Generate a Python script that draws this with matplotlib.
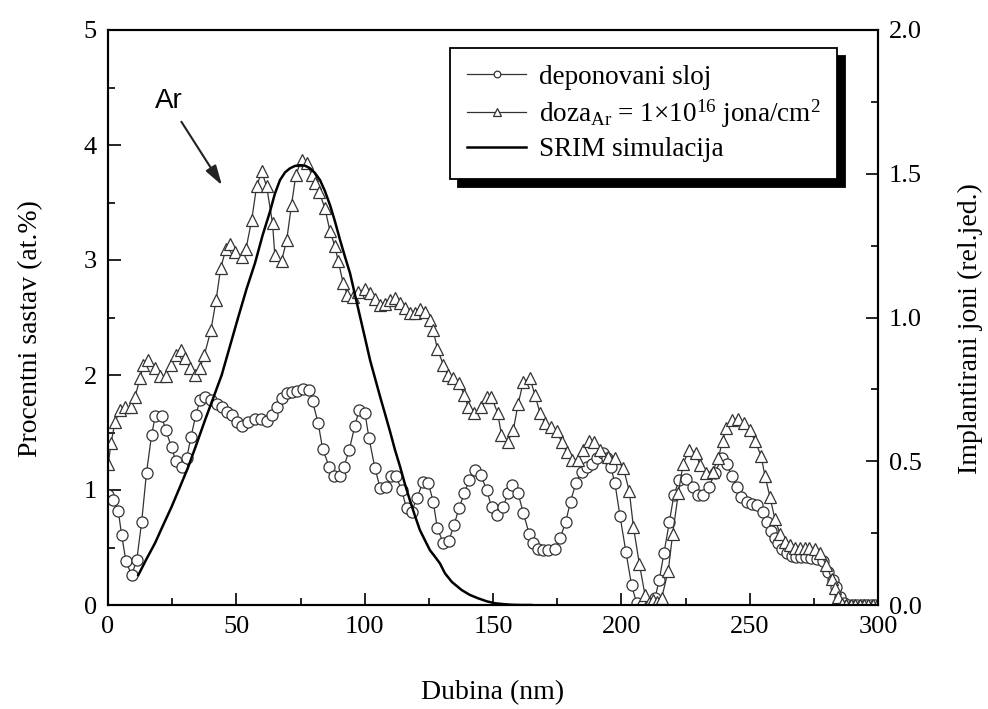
import matplotlib
matplotlib.use("Agg")
import matplotlib.pyplot as plt
from matplotlib.ticker import MultipleLocator

plt.rcParams['font.family'] = ['Liberation Serif', 'DejaVu Serif']
plt.rcParams['mathtext.fontset'] = 'custom'
plt.rcParams['mathtext.rm'] = 'Liberation Serif'
plt.rcParams['mathtext.it'] = 'Liberation Serif:italic'

# deponovani sloj (circles)
dep_x = [0.1, 1.8, 4.0, 5.3, 7.0, 9.2, 11.2, 13.1, 15.0, 17.0, 18.4, 20.9, 22.5, 24.8, 26.4, 28.7,
         30.7, 32.3, 34.2, 35.8, 37.8, 40.1, 42.3, 44.3, 46.2, 48.2, 50.1, 52.1, 54.7, 57.3, 59.6,
         61.8, 63.8, 65.7, 67.7, 69.6, 71.6, 73.5, 75.8, 78.4, 79.7, 81.9, 83.6, 86.2, 88.0, 90.4,
         91.9, 94.0, 96.2, 97.9, 100.1, 101.7, 104.0, 106.0, 108.3, 110.1, 112.2, 114.4, 116.3,
         118.3, 120.3, 122.8, 124.8, 126.7, 128.3, 130.6, 132.8, 134.9, 136.7, 138.8, 140.8, 143.0,
         145.3, 147.5, 149.5, 151.4, 154.0, 155.7, 157.5, 159.8, 161.8, 164.1, 165.7, 167.6, 169.6,
         171.5, 174.1, 176.1, 178.3, 180.2, 182.3, 184.5, 186.5, 188.4, 190.7, 192.7, 194.3, 195.9,
         197.5, 199.5, 201.8, 204.0, 206.0, 208.5, 211.1, 213.1, 214.8, 216.6, 218.7, 220.5, 222.6,
         225.2, 227.8, 230.0, 231.9, 234.2, 236.5, 239.1, 241.0, 243.0, 244.9, 246.8, 248.8, 251.1,
         252.9, 255.0, 256.6, 258.3, 259.8, 261.1, 262.6, 264.4, 266.3, 268.2, 270.1, 272.0, 274.0,
         276.2, 278.6, 280.6, 282.5, 283.8, 285.2, 286.8, 288.5, 290.2, 292.0, 293.8, 295.5, 297.2,
         299.0]
dep_y = [0.96, 0.91, 0.82, 0.61, 0.38, 0.26, 0.39, 0.72, 1.15, 1.48, 1.64, 1.64, 1.52, 1.37, 1.25, 1.20,
         1.28, 1.46, 1.65, 1.78, 1.81, 1.78, 1.75, 1.72, 1.68, 1.65, 1.59, 1.56, 1.59, 1.62, 1.62,
         1.60, 1.65, 1.72, 1.80, 1.84, 1.855, 1.86, 1.875, 1.87, 1.77, 1.58, 1.36, 1.20, 1.12, 1.12,
         1.20, 1.35, 1.56, 1.70, 1.67, 1.45, 1.19, 1.02, 1.03, 1.12, 1.12, 1.00, 0.84,
         0.81, 0.93, 1.07, 1.06, 0.90, 0.67, 0.54, 0.56, 0.70, 0.84, 0.97, 1.09, 1.17,
         1.13, 1.00, 0.85, 0.78, 0.85, 0.97, 1.04, 0.97, 0.80, 0.62, 0.54, 0.49, 0.48,
         0.48, 0.49, 0.58, 0.72, 0.90, 1.06, 1.16, 1.20, 1.23, 1.28, 1.32, 1.28, 1.20,
         1.06, 0.77, 0.46, 0.17, 0.015, 0.0, 0.0, 0.06, 0.22, 0.45, 0.72, 0.96, 1.09,
         1.10, 1.03, 0.96, 0.96, 1.03, 1.15, 1.28, 1.23, 1.12, 1.03, 0.94, 0.90, 0.88,
         0.87, 0.81, 0.72, 0.64, 0.58, 0.54, 0.49, 0.45, 0.43, 0.42, 0.42, 0.42, 0.41,
         0.40, 0.38, 0.29, 0.22, 0.16, 0.07, 0.02, 0.0, 0.0, 0.0, 0.0, 0.0, 0.0,
         0.0]

# doza Ar (triangles)
doz_x = [0.1, 1.2, 2.7, 4.7, 6.6, 9.0, 10.5, 12.5, 13.8, 15.7, 18.3, 20.3, 22.5, 24.5, 26.3, 28.4,
         30.0, 32.0, 33.9, 35.8, 37.5, 40.1, 42.1, 43.9, 46.0, 47.5, 49.5, 52.1, 53.8, 56.0, 57.9,
         59.9, 61.8, 64.1, 65.0, 67.6, 69.6, 71.5, 73.2, 75.4, 77.6, 79.3, 80.6, 82.3, 84.5, 86.5,
         88.4, 89.7, 91.6, 93.2, 95.3, 97.5, 100.1, 102.1, 104.0, 106.0, 107.9, 109.9, 111.8, 113.8,
         115.7, 117.6, 119.6, 121.5, 123.5, 125.4, 126.7, 128.3, 130.6, 132.3, 134.5, 136.7, 138.8,
         140.3, 142.7, 145.5, 147.5, 149.4, 151.8, 153.3, 155.7, 157.9, 159.8, 161.8, 164.4, 166.3,
         168.3, 170.2, 172.6, 174.8, 176.7, 178.7, 180.6, 183.0, 185.2, 187.4, 189.5, 191.7, 194.9,
         197.5, 200.8, 203.1, 204.7, 207.0, 209.2, 210.8, 212.2, 214.0, 215.7, 218.3, 220.0, 222.2,
         224.1, 226.5, 229.0, 230.6, 233.0, 235.6, 237.8, 239.5, 240.8, 243.0, 245.5, 247.9, 250.1,
         252.0, 254.4, 256.0, 257.9, 259.8, 261.8, 263.7, 265.7, 267.6, 269.5, 271.4, 273.3, 275.3,
         277.4, 279.9, 281.9, 283.2, 284.5, 286.0, 287.7, 289.4, 291.1, 292.8, 294.5, 296.2, 298.0,
         299.7]
doz_y = [1.23, 1.41, 1.59, 1.70, 1.72, 1.72, 1.81, 1.97, 2.09, 2.13, 2.06, 1.99, 1.99, 2.09, 2.17, 2.22,
         2.15, 2.06, 2.00, 2.06, 2.17, 2.39, 2.65, 2.93, 3.10, 3.14, 3.07, 3.03, 3.10, 3.35, 3.64,
         3.77, 3.64, 3.32, 3.04, 2.99, 3.17, 3.48, 3.74, 3.87, 3.84, 3.74, 3.67, 3.59, 3.45, 3.25,
         3.12, 2.99, 2.80, 2.70, 2.68, 2.72, 2.75, 2.71, 2.66, 2.61, 2.62, 2.65, 2.67, 2.63,
         2.58, 2.54, 2.54, 2.57, 2.55, 2.48, 2.39, 2.23, 2.09, 2.00, 1.97, 1.93, 1.83,
         1.72, 1.67, 1.72, 1.81, 1.81, 1.67, 1.48, 1.42, 1.52, 1.75, 1.94, 1.97, 1.83,
         1.67, 1.58, 1.55, 1.51, 1.42, 1.33, 1.26, 1.26, 1.35, 1.43, 1.42, 1.35, 1.29,
         1.28, 1.19, 0.99, 0.68, 0.36, 0.09, 0.02, 0.04, 0.03, 0.06, 0.30, 0.62, 0.97,
         1.23, 1.35, 1.32, 1.22, 1.15, 1.16, 1.28, 1.43, 1.54, 1.61, 1.62, 1.58, 1.52,
         1.43, 1.30, 1.12, 0.94, 0.75, 0.62, 0.55, 0.52, 0.50, 0.50, 0.50, 0.50, 0.49,
         0.45, 0.35, 0.23, 0.145, 0.07, 0.01, 0.0, 0.0, 0.0, 0.0, 0.0, 0.0, 0.0,
         0.0]

# SRIM simulacija (right axis)
srim_x = [11.8, 15.0, 18.3, 21.5, 24.8, 28.0, 31.3, 34.5, 37.8, 41.0, 44.3, 47.5, 50.8, 54.0, 57.3,
          60.2, 63.1, 65.0, 67.0, 69.0, 70.9, 72.8, 74.8, 76.8, 78.7, 80.6, 82.6, 84.5, 86.5, 88.4,
          90.4, 92.3, 94.3, 96.2, 98.2, 100.1, 102.1, 104.0, 106.0, 108.0, 109.9, 111.8, 113.8,
          115.7, 117.6, 119.6, 121.5, 123.5, 125.4, 127.4, 129.3, 131.3, 134.0, 137.8, 141.0,
          144.3, 147.5, 150.8, 154.0, 157.0, 161.0, 165.0]
srim_y = [0.104, 0.16, 0.215, 0.278, 0.342, 0.41, 0.481, 0.56, 0.643, 0.72, 0.80, 0.90, 1.003, 1.10, 1.19,
          1.285, 1.368, 1.43, 1.478, 1.505, 1.519, 1.527, 1.53, 1.528, 1.519, 1.503, 1.478, 1.44, 1.391, 1.335,
          1.27, 1.212, 1.154, 1.08, 1.003, 0.93, 0.852, 0.79, 0.725, 0.663, 0.603, 0.54, 0.481,
          0.42, 0.365, 0.31, 0.261, 0.225, 0.191, 0.168, 0.145, 0.11, 0.08, 0.052, 0.035,
          0.023, 0.013, 0.006, 0.003, 0.001, 0.0, 0.0]

fig = plt.figure(figsize=(9.88, 7.09), dpi=100)
ax = fig.add_axes([108/988, 1 - 605/709, 770/988, 575/709])
ax2 = ax.twinx()

mcol = '#333333'
l1, = ax.plot(dep_x, dep_y, '-', color=mcol, lw=0.9, marker='o', ms=8, mfc='white',
              mec=mcol, mew=0.9, label='deponovani sloj')
l2, = ax.plot(doz_x, doz_y, '-', color=mcol, lw=0.9, marker='^', ms=9, mfc='white',
              mec=mcol, mew=0.9, label='doza$_{\\mathrm{Ar}}$ = 1×10$^{16}$ jona/cm$^{2}$')
l3, = ax2.plot(srim_x, srim_y, '-', color='black', lw=1.8, label='SRIM simulacija')

ax.set_xlim(0, 300)
ax.set_ylim(0, 5)
ax2.set_ylim(0, 2.0)

ax.xaxis.set_major_locator(MultipleLocator(50))
ax.xaxis.set_minor_locator(MultipleLocator(25))
ax.yaxis.set_major_locator(MultipleLocator(1))
ax.yaxis.set_minor_locator(MultipleLocator(0.5))
ax2.yaxis.set_major_locator(MultipleLocator(0.5))
ax2.yaxis.set_minor_locator(MultipleLocator(0.25))
ax2.yaxis.set_major_formatter(matplotlib.ticker.FormatStrFormatter('%.1f'))

for a in (ax, ax2):
    a.tick_params(which='both', direction='in', labelsize=19, width=1.2)
    a.tick_params(which='major', length=9)
    a.tick_params(which='minor', length=5)
    for s in a.spines.values():
        s.set_linewidth(1.5)
ax.tick_params(which='both', top=False, right=False, pad=8)
ax2.tick_params(which='both', top=False, left=False, pad=8)

ax.set_xlabel('Dubina (nm)', fontsize=20, labelpad=30)
ax.set_ylabel('Procentni sastav (at.%)', fontsize=20)
ax2.set_ylabel('Implantirani joni (rel.jed.)', fontsize=20)
ax2.yaxis.set_label_coords(1 + 80/770, 0.48)
ax.yaxis.set_label_coords(-65/770, 0.48)

ax.annotate('Ar', xy=(44.4, 3.65), xytext=(23.5, 4.38), fontsize=20,
            family='Liberation Sans', ha='center', va='center',
            arrowprops=dict(arrowstyle='-|>,head_length=0.6,head_width=0.18', color='#222222',
                            lw=1.5, shrinkA=4, shrinkB=0))

leg = ax2.legend(handles=[l1, l2, l3], loc='upper left',
                 bbox_to_anchor=(450/988, 1 - 48/709), bbox_transform=fig.transFigure,
                 fontsize=19.5, frameon=True, fancybox=False, borderaxespad=0,
                 handlelength=2.2, handletextpad=0.45, labelspacing=0.28, borderpad=0.62,
                 markerscale=0.6,
                 shadow={'ox': 5.5, 'oy': -5.5, 'facecolor': 'black', 'edgecolor': 'black', 'alpha': 1})
leg.get_frame().set_edgecolor('black')
leg.get_frame().set_linewidth(1.3)
leg.get_frame().set_alpha(1)

fig.savefig('out.png', dpi=100)
